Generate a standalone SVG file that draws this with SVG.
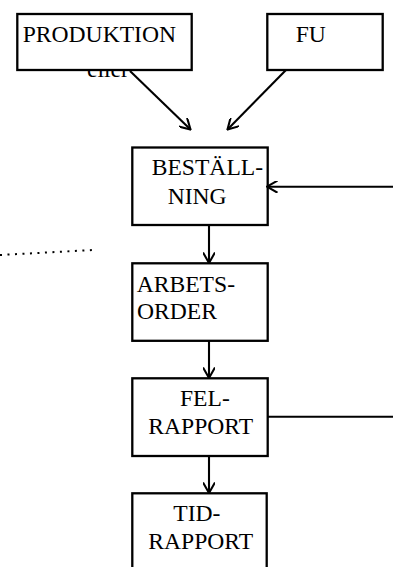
<svg xmlns="http://www.w3.org/2000/svg" width="393" height="567" viewBox="0 0 393 567">
<style>
.box{fill:#fff;stroke:#000;stroke-width:2.3}
.t{font-family:"Liberation Serif","Times New Roman",serif;font-size:23.6px;fill:#000}
.c{fill:none;stroke:#000;stroke-width:2.1}
</style>
<defs>
<marker id="ah" viewBox="0 0 12 12" refX="11" refY="6" markerWidth="12" markerHeight="12" markerUnits="userSpaceOnUse" orient="auto">
<path d="M0.5,0 L11,6 L0.5,12" fill="none" stroke="#000" stroke-width="2.1"/>
</marker>
</defs>
<rect width="393" height="567" fill="#fff"/>
<text class="t" x="87" y="76.5">eller</text>
<g id="produktion">
<rect class="box" x="17.3" y="14" width="174.4" height="56"/>
<text class="t" x="22.7" y="41.7">PRODUKTION</text>
</g>
<g id="fu">
<rect class="box" x="267.3" y="14" width="115.4" height="56"/>
<text class="t" x="295.7" y="41.7">FU</text>
</g>
<g id="bestallning">
<rect class="box" x="132.3" y="147.5" width="135.4" height="77.5"/>
<text class="t" x="151.7" y="175">BESTÄLL-</text>
<text class="t" x="167.7" y="204">NING</text>
</g>
<g id="arbetsorder">
<rect class="box" x="132.3" y="263.3" width="135.4" height="77.5"/>
<text class="t" x="136.7" y="291.7">ARBETS-</text>
<text class="t" x="137" y="318.7">ORDER</text>
</g>
<g id="felrapport">
<rect class="box" x="132.3" y="378.3" width="135.4" height="77.7"/>
<text class="t" x="180" y="406">FEL-</text>
<text class="t" x="148.3" y="434">RAPPORT</text>
</g>
<g id="tidrapport">
<rect class="box" x="132.3" y="493.3" width="134.4" height="80"/>
<text class="t" x="173.3" y="520.7">TID-</text>
<text class="t" x="148.3" y="549">RAPPORT</text>
</g>
<g id="connectors">
<line class="c" x1="130" y1="71" x2="190.5" y2="129.5" marker-end="url(#ah)"/>
<line class="c" x1="286" y1="70" x2="227.5" y2="129.5" marker-end="url(#ah)"/>
<line class="c" x1="393" y1="186.7" x2="267" y2="186.7" marker-end="url(#ah)"/>
<line class="c" x1="209" y1="225" x2="209" y2="263" marker-end="url(#ah)"/>
<line class="c" x1="209" y1="341" x2="209" y2="378" marker-end="url(#ah)"/>
<line class="c" x1="209" y1="456" x2="209" y2="493" marker-end="url(#ah)"/>
<line class="c" x1="268" y1="416.7" x2="393" y2="416.7"/>
<line x1="0" y1="255" x2="93" y2="250" stroke="#000" stroke-width="2" stroke-dasharray="2 5.5"/>
</g>
</svg>
